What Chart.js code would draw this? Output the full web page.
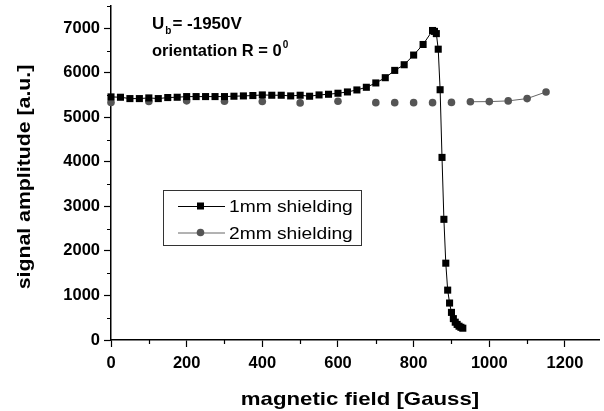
<!DOCTYPE html>
<html><head><meta charset="utf-8">
<script src="https://cdn.jsdelivr.net/npm/chart.js"></script>
<style>html,body{margin:0;padding:0;background:#fff}#wrap{width:604px;height:411px;position:relative}</style>
</head><body><div id="wrap"><canvas id="c" width="604" height="411"></canvas></div>
<script>
// ---- data ----
const field1mm = [0,25,50,75,100,125,150,175,200,225,250,275,300,325,350,375,400,425,450,475,500,525,550,575,600,625,650,675,700,725,750,775,800,825,850,855,860,865,870,875,880,885,890,895,900,905,910,915,920,925,930];
const amp1mm   = [5459,5451,5421,5421,5436,5421,5444,5451,5466,5466,5466,5466,5466,5474,5481,5489,5503,5496,5496,5481,5496,5474,5503,5518,5541,5570,5615,5675,5772,5890,6054,6181,6398,6636,6950,6930,6880,6530,5620,4100,2710,1725,1120,830,620,480,400,350,310,285,265];
const field2mm = [0,100,200,300,400,500,600,700,750,800,850,900,950,1000,1050,1100,1150];
const amp2mm   = [5335,5355,5370,5360,5355,5324,5362,5330,5330,5330,5330,5335,5350,5353,5369,5421,5570];
const xTickValues = [0,200,400,600,800,1000,1200];
const yTickValues = [0,1000,2000,3000,4000,5000,6000,7000];
const xMinorTicks = [100,300,500,700,900,1100];
const yMinorTicks = [500,1500,2500,3500,4500,5500,6500,7500];
const seriesNames = ['1mm shielding','2mm shielding'];
const xTitle = 'magnetic field [Gauss]';
const yTitle = 'signal amplitude [a.u.]';

const FONT = "'Liberation Sans', Arial, sans-serif";
const pts = (xs, ys) => xs.map((x, i) => ({x, y: ys[i]}));

function txt(ctx, s, x, y, font, sx, align, base) {
  ctx.save();
  ctx.font = font; ctx.textBaseline = base || 'alphabetic'; ctx.textAlign = 'left';
  ctx.translate(x, y); ctx.scale(sx, 1);
  const w = ctx.measureText(s).width;
  const ox = align === 'center' ? -w / 2 : align === 'right' ? -w : 0;
  ctx.fillText(s, ox, 0);
  ctx.restore();
  return w * sx;
}

const decor = {
  id: 'decor',
  afterDraw(chart) {
    const ctx = chart.ctx, xs = chart.scales.x, ys = chart.scales.y;
    ctx.save();
    ctx.strokeStyle = '#000'; ctx.lineWidth = 1.2; ctx.fillStyle = '#000';
    // minor ticks
    ctx.beginPath();
    xMinorTicks.forEach(v => { const px = Math.round(xs.getPixelForValue(v)) + 0.5; ctx.moveTo(px, ys.bottom); ctx.lineTo(px, ys.bottom + 4); });
    yMinorTicks.forEach(v => { const py = Math.round(ys.getPixelForValue(v)) + 0.5; ctx.moveTo(xs.left, py); ctx.lineTo(xs.left - 4, py); });
    ctx.stroke();
    // axis titles
    txt(ctx, xTitle, 360, 405, 'bold 19px ' + FONT, 1.17, 'center');
    ctx.save();
    ctx.translate(30, 177); ctx.rotate(-Math.PI / 2);
    txt(ctx, yTitle, 0, 0, 'bold 19px ' + FONT, 1.12, 'center');
    ctx.restore();
    // annotation
    let x = 152;
    x += txt(ctx, 'U', x, 29, 'bold 17px ' + FONT, 1, 'left');
    x += txt(ctx, 'b', x + 1, 34, 'bold 10px ' + FONT, 1, 'left') + 2;
    txt(ctx, '= -1950V', x, 29, 'bold 17px ' + FONT, 1, 'left');
    let x2 = 152;
    x2 += txt(ctx, 'orientation R = 0', x2, 56, 'bold 16.5px ' + FONT, 1, 'left');
    txt(ctx, '0', x2 + 1, 48, 'bold 10px ' + FONT, 1, 'left');
    // legend box
    ctx.lineWidth = 1; ctx.strokeStyle = '#333';
    ctx.strokeRect(163.5, 190.5, 198, 55);
    const rows = [
      {y: 206, line: '#000', fill: '#000', shape: 'rect'},
      {y: 232.5, line: '#666', fill: '#555', shape: 'circle'}
    ];
    rows.forEach((r, i) => {
      ctx.strokeStyle = r.line; ctx.lineWidth = 1;
      ctx.beginPath(); ctx.moveTo(178, r.y + 0.5); ctx.lineTo(225, r.y + 0.5); ctx.stroke();
      ctx.fillStyle = r.fill;
      if (r.shape === 'rect') ctx.fillRect(197, r.y - 3.5, 7, 7);
      else { ctx.beginPath(); ctx.arc(200.5, r.y, 3.8, 0, Math.PI * 2); ctx.fill(); }
      ctx.fillStyle = '#000';
      txt(ctx, seriesNames[i], 229, r.y + 6, '16px ' + FONT, 1.2, 'left');
    });
    ctx.restore();
  }
};

new Chart(document.getElementById('c'), {
  type: 'line',
  data: {
    datasets: [
      {
        label: seriesNames[0], data: pts(field1mm, amp1mm),
        borderColor: '#000', borderWidth: 1, backgroundColor: '#000',
        pointStyle: 'rect', pointRadius: 5, pointBorderWidth: 0,
        pointBackgroundColor: '#000', tension: 0, clip: false
      },
      {
        label: seriesNames[1], data: pts(field2mm, amp2mm),
        borderColor: '#666', borderWidth: 1, backgroundColor: '#555',
        pointStyle: 'circle', pointRadius: 3.8, pointBorderWidth: 0,
        pointBackgroundColor: '#555', tension: 0, clip: false,
        segment: { borderColor: c => c.p0.parsed.x < 950 ? 'rgba(0,0,0,0)' : '#666' }
      }
    ]
  },
  options: {
    responsive: false, animation: false, devicePixelRatio: 1,
    layout: { padding: { top: 6, right: 0, left: 0, bottom: 0 } },
    plugins: { legend: { display: false }, tooltip: { enabled: false } },
    scales: {
      x: {
        type: 'linear', min: 0, max: 1290,
        afterBuildTicks: s => { s.ticks = xTickValues.map(v => ({value: v})); },
        ticks: { autoSkip: false, maxRotation: 0, color: '#000', padding: 7,
                 callback: v => String(v),
                 font: { family: FONT, size: 16.5, weight: 'bold' } },
        grid: { drawOnChartArea: false, drawTicks: true, tickLength: 7, tickWidth: 1.2, tickColor: '#000' },
        border: { display: true, color: '#000', width: 1.5 },
        afterFit: s => { s.height = 71; s.paddingLeft = 0; s.paddingRight = 0; }
      },
      y: {
        type: 'linear', min: 0, max: 7500,
        afterBuildTicks: s => { s.ticks = yTickValues.map(v => ({value: v})); },
        ticks: { autoSkip: false, color: '#000', padding: 4,
                 callback: v => String(v),
                 font: { family: FONT, size: 16.5, weight: 'bold' } },
        grid: { drawOnChartArea: false, drawTicks: true, tickLength: 7, tickWidth: 1.2, tickColor: '#000' },
        border: { display: true, color: '#000', width: 1.5 },
        afterFit: s => { s.width = 111; s.paddingTop = 0; s.paddingBottom = 0; }
      }
    }
  },
  plugins: [decor]
});
</script>
</body></html>
